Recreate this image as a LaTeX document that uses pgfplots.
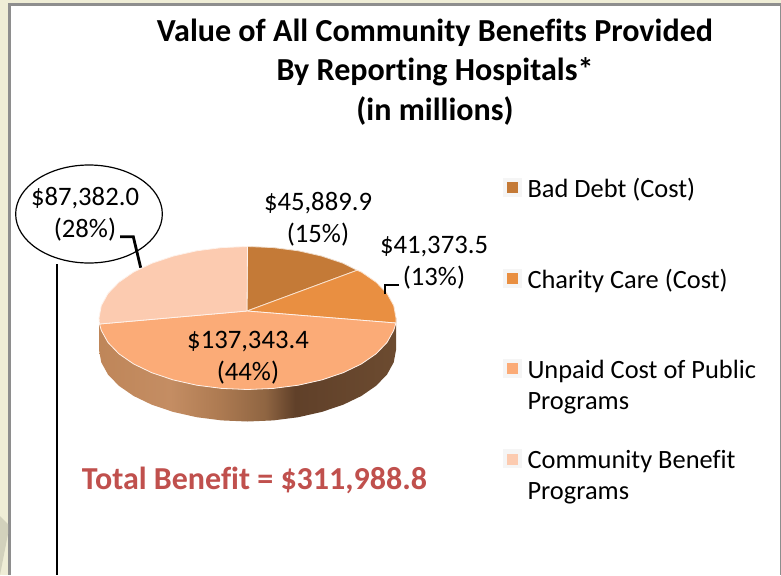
\documentclass[border=0pt]{standalone}
\usepackage{fontspec}
\setmainfont[Ligatures=CommonOff]{Carlito}
\usepackage{pgfplots}
\pgfplotsset{compat=1.18}
\definecolor{cBad}{HTML}{C47A37}
\definecolor{cCharity}{HTML}{E98F41}
\definecolor{cUnpaid}{HTML}{FBAB77}
\definecolor{cCommunity}{HTML}{FCCBB0}
\definecolor{cTotal}{HTML}{C0504D}
\definecolor{cCream}{HTML}{EFEDD6}
\definecolor{cFrame}{HTML}{8E8E8E}
\definecolor{sA}{HTML}{BF8659}
\definecolor{sB}{HTML}{C48D63}
\definecolor{sC}{HTML}{AE7B52}
\definecolor{sD}{HTML}{8F6542}
\definecolor{sE}{HTML}{604029}
\definecolor{sF}{HTML}{6C4B30}
\pgfdeclarehorizontalshading{pieside}{100bp}{color(0bp)=(sA); color(25bp)=(sA); color(37bp)=(sB); color(45bp)=(sC); color(53bp)=(sD); color(58bp)=(sE); color(75bp)=(sF); color(100bp)=(sF)}
\begin{document}
\begin{tikzpicture}[x=1pt,y=1pt]
\begin{axis}[
  scale only axis, width=585.75pt, height=431.25pt,
  xmin=0, xmax=781, ymin=0, ymax=575, y dir=reverse,
  hide axis, clip=true,
  legend cell align=left,
  legend image code/.code={
    \fill[white!96!black] (0pt,-5.5pt) rectangle (13.5pt,8pt);
    \path[#1,draw=none] (2.6pt,-3pt) rectangle (10.9pt,5.2pt);
  },
  legend style={
    at={(axis cs:503,178)}, anchor=north west,
    draw=none, fill=none, inner sep=0pt, outer sep=0pt,
    row sep=51.7pt, column sep=4.3pt,
    font=\fontsize{19.8}{23.25}\selectfont,
    nodes={inner sep=0pt, outer sep=0pt},
  },
]
% page background and frame
\fill[cCream] (axis cs:0,0) rectangle (axis cs:781,575);
\fill[cFrame] (axis cs:8,3) rectangle (axis cs:781,575);
\fill[white] (axis cs:11,6) rectangle (axis cs:780,575);
\fill[black!12!cCream] (axis cs:0,516) -- (axis cs:8,524) -- (axis cs:8,534) -- (axis cs:0,575) -- cycle;

% side of the pie
\addplot[forget plot, draw=none, shading=pieside] coordinates {
 (99,318) (101.3,330.4) (108,342.5) (118.9,353.8) (133.7,364) (152,372.8) (173.2,379.9) (196.7,385.2) (221.7,388.4) (247.5,389.5)
 (273.3,388.4) (298.3,385.2) (321.8,379.9) (343,372.8) (361.3,364) (376.1,353.8) (387,342.5) (393.7,330.4) (396,318)
 (396,350) (393.7,362.4) (387,374.5) (376.1,385.8) (361.3,396) (343,404.8) (321.8,411.9) (298.3,417.2) (273.3,420.4) (247.5,421.5)
 (221.7,420.4) (196.7,417.2) (173.2,411.9) (152,404.8) (133.7,396) (118.9,385.8) (108,374.5) (101.3,362.4) (99,350) (99,318)
};

% Bad Debt (Cost) 45,889.9
\addplot[draw=white!75!cBad, line width=0.6pt, fill=cBad] coordinates {
 (247,311) (247.5,246.5) (273.3,247.6) (298.3,250.8) (321.8,256.1) (343,263.2) (357,270.3) (247,311)
};
\addlegendentry{Bad Debt (Cost)}
% Charity Care (Cost) 41,373.5
\addplot[draw=white!75!cCharity, line width=0.6pt, fill=cCharity] coordinates {
 (247,311) (357,270.3) (361.3,272) (376.1,282.2) (387,293.5) (393.7,305.6) (396,318) (396,323) (247,311)
};
\addlegendentry{Charity Care (Cost)}
% Unpaid Cost of Public Programs 137,343.4
\addplot[draw=white!85!cUnpaid, line width=0.6pt, fill=cUnpaid] coordinates {
 (247,311) (396,323) (393.7,330.4) (387,342.5) (376.1,353.8) (361.3,364) (343,372.8) (321.8,379.9) (298.3,385.2) (273.3,388.4) (247.5,389.5)
 (221.7,388.4) (196.7,385.2) (173.2,379.9) (152,372.8) (133.7,364) (118.9,353.8) (108,342.5) (101.3,330.4) (99.5,324) (247,311)
};
\addlegendentry{\parbox[t]{185pt}{Unpaid Cost of Public\\Programs}}
% Community Benefit Programs 87,382.0
\addplot[draw=white!75!cCommunity, line width=0.6pt, fill=cCommunity] coordinates {
 (247,311) (99.5,324) (99,318) (101.3,305.6) (108,293.5) (118.9,282.2) (133.7,272) (152,263.2) (173.2,256.1) (196.7,250.8) (221.7,247.6) (247.5,246.5) (247,311)
};
\addlegendentry{\parbox[t]{185pt}{Community Benefit\\Programs}}

% leaders and callout
\draw[black, line width=2.1pt] (axis cs:120,236.7) -- (axis cs:133.3,236.7) -- (axis cs:140.7,267.7);
\draw[black, line width=2.1pt] (axis cs:399,285) -- (axis cs:385,285) -- (axis cs:385,294);
\draw[black, line width=0.9pt] (axis cs:89,214) ellipse [x radius=55pt, y radius=36.75pt];
\draw[black, line width=1.1pt] (axis cs:57,264) -- (axis cs:57,575);

% title
\node[align=center, font=\fontsize{24.05}{29.6}\selectfont\bfseries] at (axis cs:435,72)
  {Value of All Community Benefits Provided\\By Reporting Hospitals*\\(in millions)};
% data labels
\node[align=center, font=\fontsize{20}{24}\selectfont] at (axis cs:318,219.5) {\$45,889.9\\(15\%)};
\node[align=center, font=\fontsize{20}{24}\selectfont] at (axis cs:434,263) {\$41,373.5\\(13\%)};
\node[align=center, font=\fontsize{20}{24}\selectfont] at (axis cs:248,358) {\$137,343.4\\(44\%)};
\node[align=center, font=\fontsize{20}{24}\selectfont] at (axis cs:85,214.5) {\$87,382.0\\(28\%)};
\node[font=\fontsize{24}{28}\selectfont\bfseries, text=cTotal] at (axis cs:254.5,480.5) {Total Benefit = \$311,988.8};
\end{axis}
\end{tikzpicture}
\end{document}
